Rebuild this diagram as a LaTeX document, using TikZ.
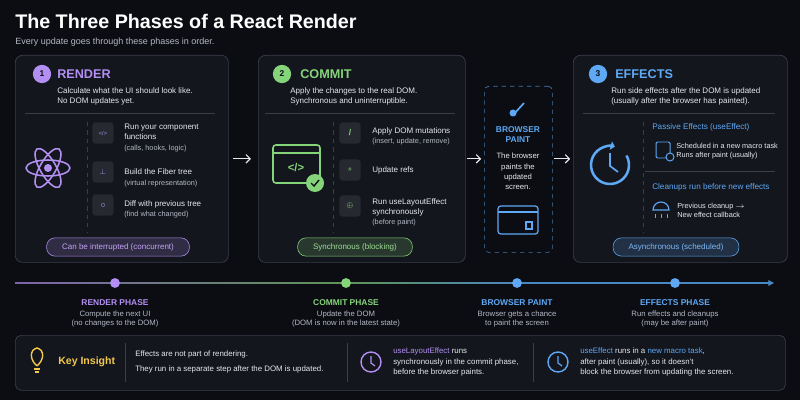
\documentclass[tikz,border=0pt]{standalone}
\usepackage{fontspec}
\setmainfont{Liberation Sans}
\usetikzlibrary{positioning,arrows.meta,shadings}

\definecolor{bgc}{HTML}{0B0D12}
\definecolor{panelc}{HTML}{13161D}
\definecolor{edgec}{HTML}{3A3E4A}
\definecolor{purp}{HTML}{B38EF3}
\definecolor{grn}{HTML}{86D47A}
\definecolor{blu}{HTML}{5EA8F5}
\definecolor{txt}{HTML}{E6E8EE}
\definecolor{dim}{HTML}{B4B8C4}
\definecolor{gold}{HTML}{F2C94C}

\tikzset{
  panel/.style={draw=edgec, fill=panelc, rounded corners=5pt, line width=0.5pt, anchor=north west, inner sep=0pt},
  num/.style={circle, fill=#1, text=bgc, font=\fontsize{6}{6}\selectfont\bfseries, minimum size=13, inner sep=0pt},
  head/.style={anchor=west, text=#1, font=\fontsize{9}{9}\selectfont\bfseries, inner sep=0pt},
  body/.style={anchor=west, text=txt, font=\fontsize{5.7}{7.2}\selectfont, inner sep=0pt, align=left},
  small/.style={anchor=west, text=dim, font=\fontsize{5.2}{6.4}\selectfont, inner sep=0pt, align=left},
  pill/.style={draw=#1, fill=#1!18!panelc, rounded corners=6pt, text=#1!80!white, font=\fontsize{5.7}{5.7}\selectfont, minimum height=13, inner xsep=11pt},
  ibox/.style={fill=white!8!panelc, rounded corners=2pt, minimum size=15, inner sep=0pt},
  sep/.style={draw=edgec, line width=0.5pt},
  vsep/.style={draw=edgec, dashed, line width=0.5pt},
  arr/.style={-{Straight Barb[length=3pt]}, draw=txt, line width=0.8pt},
  tl/.style={anchor=north, align=center, font=\fontsize{5.5}{7}\selectfont, text=dim, inner sep=0pt},
  tlh/.style={anchor=north, font=\fontsize{6}{6}\selectfont\bfseries, text=#1, inner sep=0pt},
  dot/.style={circle, fill=#1, minimum size=7, inner sep=0pt}
}

\begin{document}
\begin{tikzpicture}[x=0.025cm, y=-0.025cm]
  \fill[bgc] (0,0) rectangle (800,400);
  \useasboundingbox (0,0) rectangle (800,400);

  % title
  \node[anchor=west, text=white, font=\fontsize{14}{14}\selectfont\bfseries, inner sep=0pt] (title) at (15,21) {The Three Phases of a React Render};
  \node[anchor=west, text=dim, font=\fontsize{6.4}{6.4}\selectfont, inner sep=0pt] (subtitle) at (15,42) {Every update goes through these phases in order.};

  % panels
  \node[panel, minimum width=213*0.025cm, minimum height=207*0.025cm] (p1) at (15,55) {};
  \node[panel, minimum width=207*0.025cm, minimum height=207*0.025cm] (p2) at (258,55) {};
  \node[panel, draw=blu!70!black, fill=bgc, dashed, rounded corners=3pt, minimum width=68*0.025cm, minimum height=166*0.025cm] (paint) at (484,86) {};
  \node[panel, minimum width=214*0.025cm, minimum height=207*0.025cm] (p3) at (573,55) {};

  \draw[arr] ([xshift=3pt]p1.east) -- ([xshift=-5pt]p1.east -| p2.west);
  \draw[arr] ([xshift=1pt]p2.east) -- ([xshift=-2pt]p2.east -| paint.west);
  \draw[arr] ([xshift=1pt]p2.east -| paint.east) -- ([xshift=-2pt]p2.east -| p3.west);

  % render
  \node[num=purp] (n1) at (42,74) {1};
  \node[head=purp] (h1) at (57,74) {RENDER};
  \node[body] (d1) at (57,96) {Calculate what the UI should look like.\\No DOM updates yet.};
  \draw[sep] (25,113) -- (215,113);
  \draw[vsep] (87,122) -- (87,232);
  \begin{scope}[shift={(48,168)}, purp, line width=1.1pt]
    \draw (0,0) ellipse (22 and 8);
    \draw[rotate=60] (0,0) ellipse (22 and 8);
    \draw[rotate=-60] (0,0) ellipse (22 and 8);
    \fill (0,0) circle (4);
  \end{scope}
  \node[ibox] (i11) at (103,133) {\textcolor{purp}{\fontsize{4}{4}\selectfont</>}};
  \node[ibox] (i12) at (103,172) {\textcolor{purp}{\fontsize{5}{5}\selectfont$\perp$}};
  \node[ibox] (i13) at (103,205) {\textcolor{purp}{\fontsize{6}{6}\selectfont$\circ$}};
  \node[body] (t11) at (124,132) {Run your component\\functions};
  \node[small] (s11) at (124,149) {(calls, hooks, logic)};
  \node[body] (t12) at (124,172) {Build the Fiber tree};
  \node[small] (s12) at (124,184) {(virtual representation)};
  \node[body] (t13) at (124,204) {Diff with previous tree};
  \node[small] (s13) at (124,215) {(find what changed)};
  \node[pill=purp] (c1) at (118,247) {Can be interrupted (concurrent)};

  % commit
  \node[num=grn] (n2) at (282,74) {2};
  \node[head=grn] (h2) at (300,74) {COMMIT};
  \node[body] (d2) at (290,96) {Apply the changes to the real DOM.\\Synchronous and uninterruptible.};
  \draw[sep] (265,113) -- (455,113);
  \draw[vsep] (333,122) -- (333,232);
  \begin{scope}[grn, line width=1.1pt]
    \draw[rounded corners=2pt] (273,145) rectangle (320,183);
    \draw (273,153) -- (320,153);
    \node[text=grn, font=\fontsize{8}{8}\selectfont\bfseries] (code) at (296,168) {</>};
    \fill (315,183) circle (9);
    \draw[bgc, line width=1pt] (311,183) -- (314,186) -- (319,180);
  \end{scope}
  \node[ibox] (i21) at (350,133) {\textcolor{grn}{\fontsize{6}{6}\selectfont\bfseries /}};
  \node[ibox] (i22) at (350,170) {\textcolor{grn}{\fontsize{4}{4}\selectfont\#}};
  \node[ibox] (i23) at (350,206) {\textcolor{grn}{\fontsize{5}{5}\selectfont$\oplus$}};
  \node[body] (t21) at (372,131) {Apply DOM mutations};
  \node[small] (s21) at (372,142) {(insert, update, remove)};
  \node[body] (t22) at (372,170) {Update refs};
  \node[body] (t23) at (372,207) {Run useLayoutEffect\\synchronously};
  \node[small] (s23) at (372,223) {(before paint)};
  \node[pill=grn] (c2) at (355,247) {Synchronous (blocking)};

  % browser paint
  \begin{scope}[blu, line width=1.2pt]
    \draw (524,103) -- (514,114);
    \fill (513,113) circle (3.5);
  \end{scope}
  \node[anchor=north, align=center, text=blu, font=\fontsize{6}{7.4}\selectfont\bfseries, inner sep=0pt] (ph) at (518,126) {BROWSER\\PAINT};
  \node[anchor=north, align=center, text=txt, font=\fontsize{5.5}{7.3}\selectfont, inner sep=0pt] (pt) at (518,153) {The browser\\paints the\\updated\\screen.};
  \begin{scope}[blu, line width=0.9pt]
    \draw[rounded corners=2pt] (498,206) rectangle (538,234);
    \draw (498,212) -- (538,212);
    \draw (526,222) rectangle (532,229);
  \end{scope}

  % effects
  \node[num=blu] (n3) at (598,74) {3};
  \node[head=blu] (h3) at (615,74) {EFFECTS};
  \node[body] (d3) at (611,96) {Run side effects after the DOM is updated\\(usually after the browser has painted).};
  \draw[sep] (583,113) -- (775,113);
  \draw[vsep] (643,122) -- (643,232);
  \begin{scope}[blu, line width=1.8pt]
    \draw[-{Triangle[length=3pt,width=6pt]}] (610,165) ++(-30:19) arc (-30:285:19);
    \draw[line width=1.2pt] (610,153) -- (610,166) -- (618,172);
  \end{scope}
  \node[anchor=west, text=blu, font=\fontsize{5.8}{5.8}\selectfont, inner sep=0pt] (pe) at (652,127) {Passive Effects (useEffect)};
  \draw[blu, line width=0.7pt, rounded corners=1pt] (656,142) rectangle (670,158);
  \draw[blu, line width=0.7pt, fill=panelc] (670,157) circle (4);
  \node[small, text=txt] (t31) at (676,151) {Scheduled in a new macro task\\Runs after paint (usually)};
  \draw[sep] (645,171) -- (775,171);
  \node[anchor=west, text=blu, font=\fontsize{5.8}{5.8}\selectfont, inner sep=0pt] (cl) at (652,187) {Cleanups run before new effects};
  \draw[blu, line width=0.8pt] (653,210) arc (180:360:8) -- cycle;
  \draw[blu, line width=0.6pt, dashed] (655,214) -- (655,219) (661,214) -- (661,219) (667,214) -- (667,219);
  \node[small, text=txt] (t32) at (677,210) {Previous cleanup $\to$\\New effect callback};
  \node[pill=blu] (c3) at (676,247) {Asynchronous (scheduled)};

  % timeline
  \coordinate (ts) at (15,283);
  \coordinate (te) at (774,283);
  \shade[left color=purp!70!black, right color=grn!70!black] (15,282.5) rectangle (346,283.5);
  \shade[left color=grn!70!black, right color=blu!80!black] (346,282.5) rectangle (520,283.5);
  \draw[blu!80!black, line width=0.8pt, -{Triangle[length=4pt,width=4pt]}] (520,283) -- (te);
  \node[dot=purp] (k1) at (115,283) {};
  \node[dot=grn] (k2) at (346,283) {};
  \node[dot=blu] (k3) at (517,283) {};
  \node[dot=blu] (k4) at (675,283) {};
  \node[tlh=purp, below=8pt of k1] (l1) {RENDER PHASE};
  \node[tl, below=3pt of l1] {Compute the next UI\\(no changes to the DOM)};
  \node[tlh=grn, below=8pt of k2] (l2) {COMMIT PHASE};
  \node[tl, below=3pt of l2] {Update the DOM\\(DOM is now in the latest state)};
  \node[tlh=blu, below=8pt of k3] (l3) {BROWSER PAINT};
  \node[tl, below=3pt of l3] {Browser gets a chance\\to paint the screen};
  \node[tlh=blu, below=8pt of k4] (l4) {EFFECTS PHASE};
  \node[tl, below=3pt of l4] {Run effects and cleanups\\(may be after paint)};

  % key insight
  \node[panel, rounded corners=4pt, minimum width=770*0.025cm, minimum height=55*0.025cm] (ki) at (15,335) {};
  \draw[gold, line width=1pt] (37,366) .. controls (30,360) and (29,350) .. (37,348) .. controls (45,350) and (44,360) .. (37,366);
  \draw[gold, line width=1pt] (34,369) -- (40,369) (35,372) -- (39,372);
  \node[anchor=west, text=gold, font=\fontsize{7.5}{7.5}\selectfont\bfseries, inner sep=0pt] (kt) at (58,362) {Key Insight};
  \draw[sep] (125,343) -- (125,382);
  \node[body, font=\fontsize{5.6}{10.5}\selectfont] (k1t) at (135,362) {Effects are not part of rendering.\\They run in a separate step after the DOM is updated.};
  \draw[sep] (347,343) -- (347,382);
  \draw[purp, line width=1pt] (371,362) circle (10);
  \draw[purp, line width=0.9pt] (371,356) -- (371,363) -- (375,366);
  \node[body, font=\fontsize{5.6}{7.3}\selectfont] (k2t) at (393,362) {\textcolor{purp}{useLayoutEffect} runs\\synchronously in the commit phase,\\before the browser paints.};
  \draw[sep] (533,343) -- (533,382);
  \draw[blu, line width=1pt] (558,362) circle (10);
  \draw[blu, line width=0.9pt] (558,356) -- (558,363) -- (562,366);
  \node[body, font=\fontsize{5.6}{7.3}\selectfont] (k3t) at (580,362) {\textcolor{blu}{useEffect} runs in a \textcolor{blu}{new macro task},\\after paint (usually), so it doesn't\\block the browser from updating the screen.};
\end{tikzpicture}
\end{document}
